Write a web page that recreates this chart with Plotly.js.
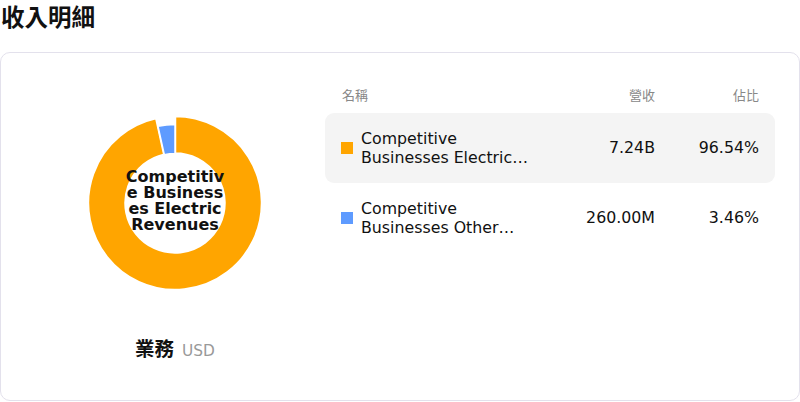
<!DOCTYPE html>
<html>
<head>
<meta charset="utf-8">
<script src="https://cdn.plot.ly/plotly-3.0.1.min.js"></script>
<style>
    body {
        margin: 0;
        width: 800px;
        height: 402px;
        background: #fff;
        position: relative;
        overflow: hidden;
        font-family: "DejaVu Sans", "Noto Sans CJK TC", sans-serif;
        color: #111;
    }
    .page-title {
        position: absolute;
        left: 1px;
        top: 0;
        font: bold 23.5px "Noto Sans CJK TC", sans-serif;
        line-height: 32px;
    }
    .card {
        position: absolute;
        left: 0;
        top: 52px;
        width: 798px;
        height: 347px;
        border: 1px solid #e3e1ec;
        border-radius: 10px;
    }
    #donut {
        position: absolute;
        left: 75px;
        top: 103px;
        width: 200px;
        height: 200px;
    }
    .center-label {
        position: absolute;
        left: 124px;
        top: 169px;
        width: 102px;
        font-weight: bold;
        font-size: 16px;
        line-height: 16px;
        text-align: center;
        word-break: break-all;
        pointer-events: none;
    }
    .caption {
        position: absolute;
        left: 75px;
        width: 200px;
        top: 333px;
        text-align: center;
        white-space: nowrap;
    }
    .caption b { font: bold 19.5px "Noto Sans CJK TC", sans-serif; }
    .caption span { font-size: 15.4px; color: #999; margin-left: 8px; }
    .table {
        position: absolute;
        left: 325px;
        top: 85px;
        width: 450px;
    }
    .thead {
        height: 20px;
        font-size: 13px;
        color: #888;
        position: relative;
    }
    .row {
        height: 70px;
        position: relative;
        border-radius: 9px;
    }
    .row.active { background: #f4f4f4; }
    .col-name { position: absolute; left: 17px; }
    .col-val { position: absolute; right: 120px; text-align: right; }
    .col-pct { position: absolute; right: 16px; text-align: right; }
    .row .col-val, .row .col-pct { top: 24px; font-size: 15.8px; line-height: 22px; }
    .swatch {
        position: absolute;
        left: 16px;
        top: 29px;
        width: 12px;
        height: 12px;
    }
    .row-label {
        position: absolute;
        left: 36px;
        top: 16px;
        width: 178px;
        font-size: 15.8px;
        line-height: 19px;
        display: -webkit-box;
        -webkit-line-clamp: 2;
        -webkit-box-orient: vertical;
        overflow: hidden;
    }
</style>
</head>
<body>
<div class="page-title">收入明細</div>
<div class="card"></div>
<div id="donut"></div>
<div class="center-label" id="center-label"></div>
<div class="caption"><b>業務</b><span>USD</span></div>
<div class="table" id="table"></div>

<script>
// ── Data ──
const segments = ['Competitive Businesses Electric Revenues', 'Competitive Businesses Other Revenues'];
const revenues = [7.24e9, 260.0e6];
const shares = [96.54, 3.46];
const colors = ['#FFA500', '#5E9BFF'];
const headers = ['名稱', '營收', '佔比'];

// ── Helpers ──
function formatMoney(v) {
    if (v >= 1e9) return (v / 1e9).toFixed(2) + 'B';
    if (v >= 1e6) return (v / 1e6).toFixed(2) + 'M';
    return v.toFixed(0);
}

function domainFor(r) {
    // r in px, plot is 200x200
    return [0.5 - r / 200, 0.5 + r / 200];
}

const holeR = 49.5;
const activeR = 87;
const normalR = 78.5;
const clear = 'rgba(0,0,0,0)';

// ── Donut ──
// active slice (index 0) drawn larger, the rest at normal radius
const bigTrace = {
    type: 'pie',
    values: revenues,
    labels: segments,
    sort: false,
    direction: 'clockwise',
    rotation: 0,
    hole: holeR / activeR,
    domain: { x: domainFor(activeR), y: domainFor(activeR) },
    textinfo: 'none',
    hoverinfo: 'skip',
    marker: {
        colors: colors.map((c, i) => i === 0 ? c : clear),
        line: { color: '#fff', width: colors.map((c, i) => i === 0 ? 2.5 : 0) },
    },
};
const smallTrace = {
    type: 'pie',
    values: revenues,
    labels: segments,
    sort: false,
    direction: 'clockwise',
    rotation: 0,
    hole: holeR / normalR,
    domain: { x: domainFor(normalR), y: domainFor(normalR) },
    textinfo: 'none',
    hoverinfo: 'skip',
    marker: {
        colors: colors.map((c, i) => i === 0 ? clear : c),
        line: { color: '#fff', width: colors.map((c, i) => i === 0 ? 0 : 1.5) },
    },
};

Plotly.newPlot('donut', [bigTrace, smallTrace], {
    width: 200,
    height: 200,
    margin: { l: 0, r: 0, t: 0, b: 0 },
    paper_bgcolor: 'rgba(0,0,0,0)',
    plot_bgcolor: 'rgba(0,0,0,0)',
    showlegend: false,
}, { displayModeBar: false, staticPlot: true });

document.getElementById('center-label').textContent = segments[0];

// ── Table ──
let html = `
    <div class="thead">
        <span class="col-name">${headers[0]}</span>
        <span class="col-val">${headers[1]}</span>
        <span class="col-pct">${headers[2]}</span>
    </div>
    <div style="height:8px"></div>`;
segments.forEach((name, i) => {
    html += `
        <div class="row ${i === 0 ? 'active' : ''}">
            <div class="swatch" style="background:${colors[i]}"></div>
            <div class="row-label">${name}</div>
            <span class="col-val">${formatMoney(revenues[i])}</span>
            <span class="col-pct">${shares[i].toFixed(2)}%</span>
        </div>`;
});
document.getElementById('table').innerHTML = html;
</script>
</body>
</html>
